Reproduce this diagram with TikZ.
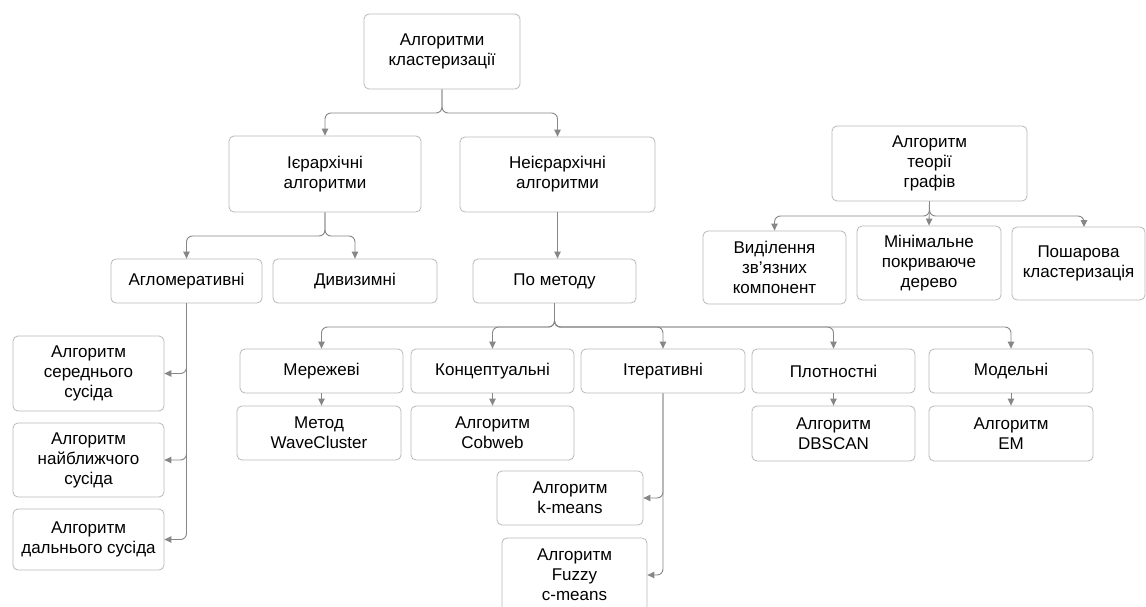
\documentclass[tikz,border=0pt]{standalone}
\usepackage{fontspec}
\setmainfont{Liberation Sans}
\usetikzlibrary{arrows.meta}
\definecolor{boxline}{RGB}{185,185,185}
\definecolor{linkline}{RGB}{135,135,135}
\tikzset{
  box/.style={draw=boxline, line width=0.8pt, rounded corners=5pt, inner sep=0pt,
    align=center, font=\fontsize{17}{20}\selectfont, text=black},
  link/.style={draw=linkline, line width=0.9pt, rounded corners=6pt,
    -{Triangle[width=6.5pt,length=7pt]}},
}
% box given by its left, top, right and bottom edges
\newcommand\placebox[6]{%
  \node[box, minimum width={#4-#2}, minimum height={#5-#3}] (#1)
    at ({(#2+#4)/2},{(#3+#5)/2}) {#6};}
\begin{document}
\begin{tikzpicture}[x=1pt,y=-1pt]
\clip (0,0) rectangle (1146,607);
\fill[white] (0,0) rectangle (1146,607);

% main tree
\placebox{top}{364}{14}{520}{89}{Алгоритми\\кластеризації}
\placebox{hier}{229}{136}{421}{212}{Ієрархічні\\алгоритми}
\placebox{nonh}{460}{137}{655}{212}{Неієрархічні\\алгоритми}
\placebox{agl}{111}{259}{262}{303}{Агломеративні}
\placebox{div}{273}{259}{437}{303}{Дивизимні}
\placebox{meth}{473}{259}{636}{303}{По методу}

% agglomerative methods
\placebox{s1}{13}{336}{164}{411}{Алгоритм\\середнього\\сусіда}
\placebox{s2}{13}{423}{164}{497}{Алгоритм\\найближчого\\сусіда}
\placebox{s3}{13}{509}{164}{570}{Алгоритм\\дальнього сусіда}

% method families
\placebox{net}{240}{349}{403}{393}{Мережеві}
\placebox{con}{411}{349}{574}{393}{Концептуальні}
\placebox{itr}{581}{349}{745}{393}{Ітеративні}
\placebox{den}{752}{349}{915}{393}{Плотностні}
\placebox{mod}{929}{349}{1093}{393}{Модельні}

\placebox{wave}{237}{406}{401}{460}{Метод\\WaveCluster}
\placebox{cob}{411}{406}{574}{460}{Алгоритм\\Cobweb}
\placebox{dbs}{752}{406}{915}{461}{Алгоритм\\DBSCAN}
\placebox{em}{929}{406}{1093}{461}{Алгоритм\\EM}
\placebox{km}{497}{471}{643}{525}{Алгоритм\\k-means}
\placebox{fz}{502}{538}{647}{612}{Алгоритм\\Fuzzy\\c-means}

% graph-theory branch
\placebox{gt}{832}{126}{1027}{201}{Алгоритм\\теорії\\графів}
\placebox{vid}{703}{231}{846}{304}{Виділення\\зв’язних\\компонент}
\placebox{mst}{857}{226}{1001}{300}{Мінімальне\\покриваюче\\дерево}
\placebox{lay}{1012}{227}{1145}{300}{Пошарова\\кластеризація}

% junction points of the connectors
\coordinate (jt) at (442,113);
\coordinate (jh) at (325,236);
\coordinate (jm) at (554.5,327);
\coordinate (jg) at (929.5,216);
\coordinate (layin) at (1084,227);

\draw[link] (top.south) -- (jt) -| (hier.north);
\draw[link] (top.south) -- (jt) -| (nonh.north);
\draw[link] (hier.south) -- (jh) -| (agl.north);
\draw[link] (hier.south) -- (jh) -| (div.north);
\draw[link] (nonh.south) -- (nonh.south |- meth.north);

\draw[link] (meth.south) -- (jm) -| (net.north);
\draw[link] (meth.south) -- (jm) -| (con.north);
\draw[link] (meth.south) -- (jm) -| (itr.north);
\draw[link] (meth.south) -- (jm) -| (den.north);
\draw[link] (meth.south) -- (jm) -| (mod.north);

\draw[link] (net.south) -- (net.south |- wave.north);
\draw[link] (con.south) -- (con.south |- cob.north);
\draw[link] (den.south) -- (den.south |- dbs.north);
\draw[link] (mod.south) -- (mod.south |- em.north);

\draw[link] (agl.south) |- (s1.east);
\draw[link] (agl.south) |- (s2.east);
\draw[link] (agl.south) |- (s3.east);

\draw[link] (itr.south) |- (km.east);
\draw[link] (itr.south) |- (fz.east);

\draw[link] (gt.south) -- (jg) -| (vid.north);
\draw[link] (gt.south) -- (jg) -| (layin);
\draw[link] (gt.south) -- (mst.north);
\end{tikzpicture}
\end{document}
